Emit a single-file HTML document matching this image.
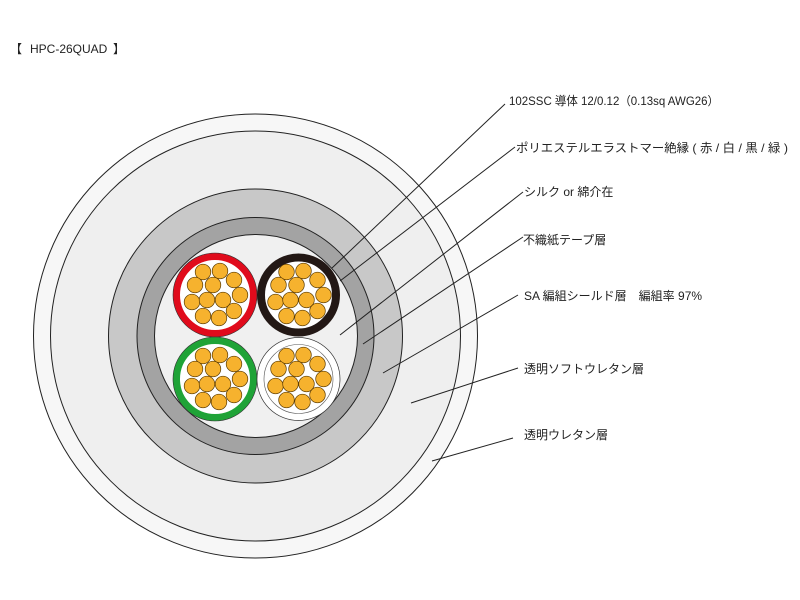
<!DOCTYPE html>
<html><head><meta charset="utf-8"><style>
html,body{margin:0;padding:0;background:#fff;width:800px;height:600px;overflow:hidden}
svg{display:block}
text{font-family:"Liberation Sans","Noto Sans CJK JP",sans-serif;font-size:12px;fill:#222}
</style></head><body>
<svg width="800" height="600" viewBox="0 0 800 600" xmlns="http://www.w3.org/2000/svg">
<defs>
<g id="strands" fill="#f6b22e" stroke="#5a3a00" stroke-width="0.7">
<circle cx="-12" cy="-23" r="7.8"/><circle cx="5" cy="-24" r="7.8"/><circle cx="19" cy="-15" r="7.8"/>
<circle cx="-20" cy="-10" r="7.8"/><circle cx="-2" cy="-10" r="7.8"/><circle cx="25" cy="0" r="7.8"/>
<circle cx="-23" cy="7" r="7.8"/><circle cx="-8" cy="5" r="7.8"/><circle cx="8" cy="5" r="7.8"/>
<circle cx="19" cy="16" r="7.8"/><circle cx="-12" cy="21" r="7.8"/><circle cx="4" cy="23" r="7.8"/>
</g>
</defs>
<text x="10" y="53">【</text><text x="30" y="53">HPC-26QUAD</text><text x="113" y="53">】</text>
<g stroke="#222" stroke-width="1">
<circle cx="255.5" cy="336" r="222" fill="#f7f7f7"/>
<circle cx="255.5" cy="336" r="205" fill="#efefef"/>
<circle cx="255.5" cy="336" r="147" fill="#c8c8c8"/>
<circle cx="255.5" cy="336" r="118.5" fill="#a3a3a3"/>
<circle cx="256" cy="336" r="101.5" fill="#f0f0f0"/>
</g>
<g>
<circle cx="215" cy="295" r="38.5" fill="#fff" stroke="#e00b1c" stroke-width="7"/>
<circle cx="215" cy="295" r="42" fill="none" stroke="#333" stroke-width="0.6"/>
<use href="#strands" x="215" y="295"/>
<circle cx="298.5" cy="295" r="37.5" fill="#fff" stroke="#231815" stroke-width="8"/>
<use href="#strands" x="298.5" y="295"/>
<circle cx="215" cy="379" r="38.5" fill="#fff" stroke="#1fa337" stroke-width="7"/>
<circle cx="215" cy="379" r="42" fill="none" stroke="#333" stroke-width="0.6"/>
<use href="#strands" x="215" y="379"/>
<circle cx="298.5" cy="379" r="41.5" fill="#fff" stroke="#333" stroke-width="0.7"/>
<circle cx="298.5" cy="379" r="34.5" fill="#fff" stroke="#555" stroke-width="0.6"/>
<use href="#strands" x="298.5" y="379"/>
</g>
<g stroke="#222" stroke-width="1" fill="none">
<line x1="505" y1="104" x2="332" y2="268"/>
<line x1="515" y1="147" x2="340" y2="281"/>
<line x1="523" y1="192" x2="340" y2="335"/>
<line x1="523" y1="237" x2="363" y2="344"/>
<line x1="518" y1="295" x2="383" y2="373"/>
<line x1="518" y1="368" x2="411" y2="403"/>
<line x1="513" y1="438" x2="432" y2="461"/>
</g>
<text x="509" y="105" textLength="210" lengthAdjust="spacingAndGlyphs">102SSC 導体 12/0.12（0.13sq AWG26）</text>
<text x="516" y="152" textLength="272" lengthAdjust="spacingAndGlyphs">ポリエステルエラストマー絶縁 ( 赤 / 白 / 黒 / 緑 )</text>
<text x="524" y="196">シルク or  綿介在</text>
<text x="523" y="244">不織紙テープ層</text>
<text x="524" y="300">SA 編組シールド層　編組率 97%</text>
<text x="524" y="373">透明ソフトウレタン層</text>
<text x="524" y="439">透明ウレタン層</text>
</svg>
</body></html>
